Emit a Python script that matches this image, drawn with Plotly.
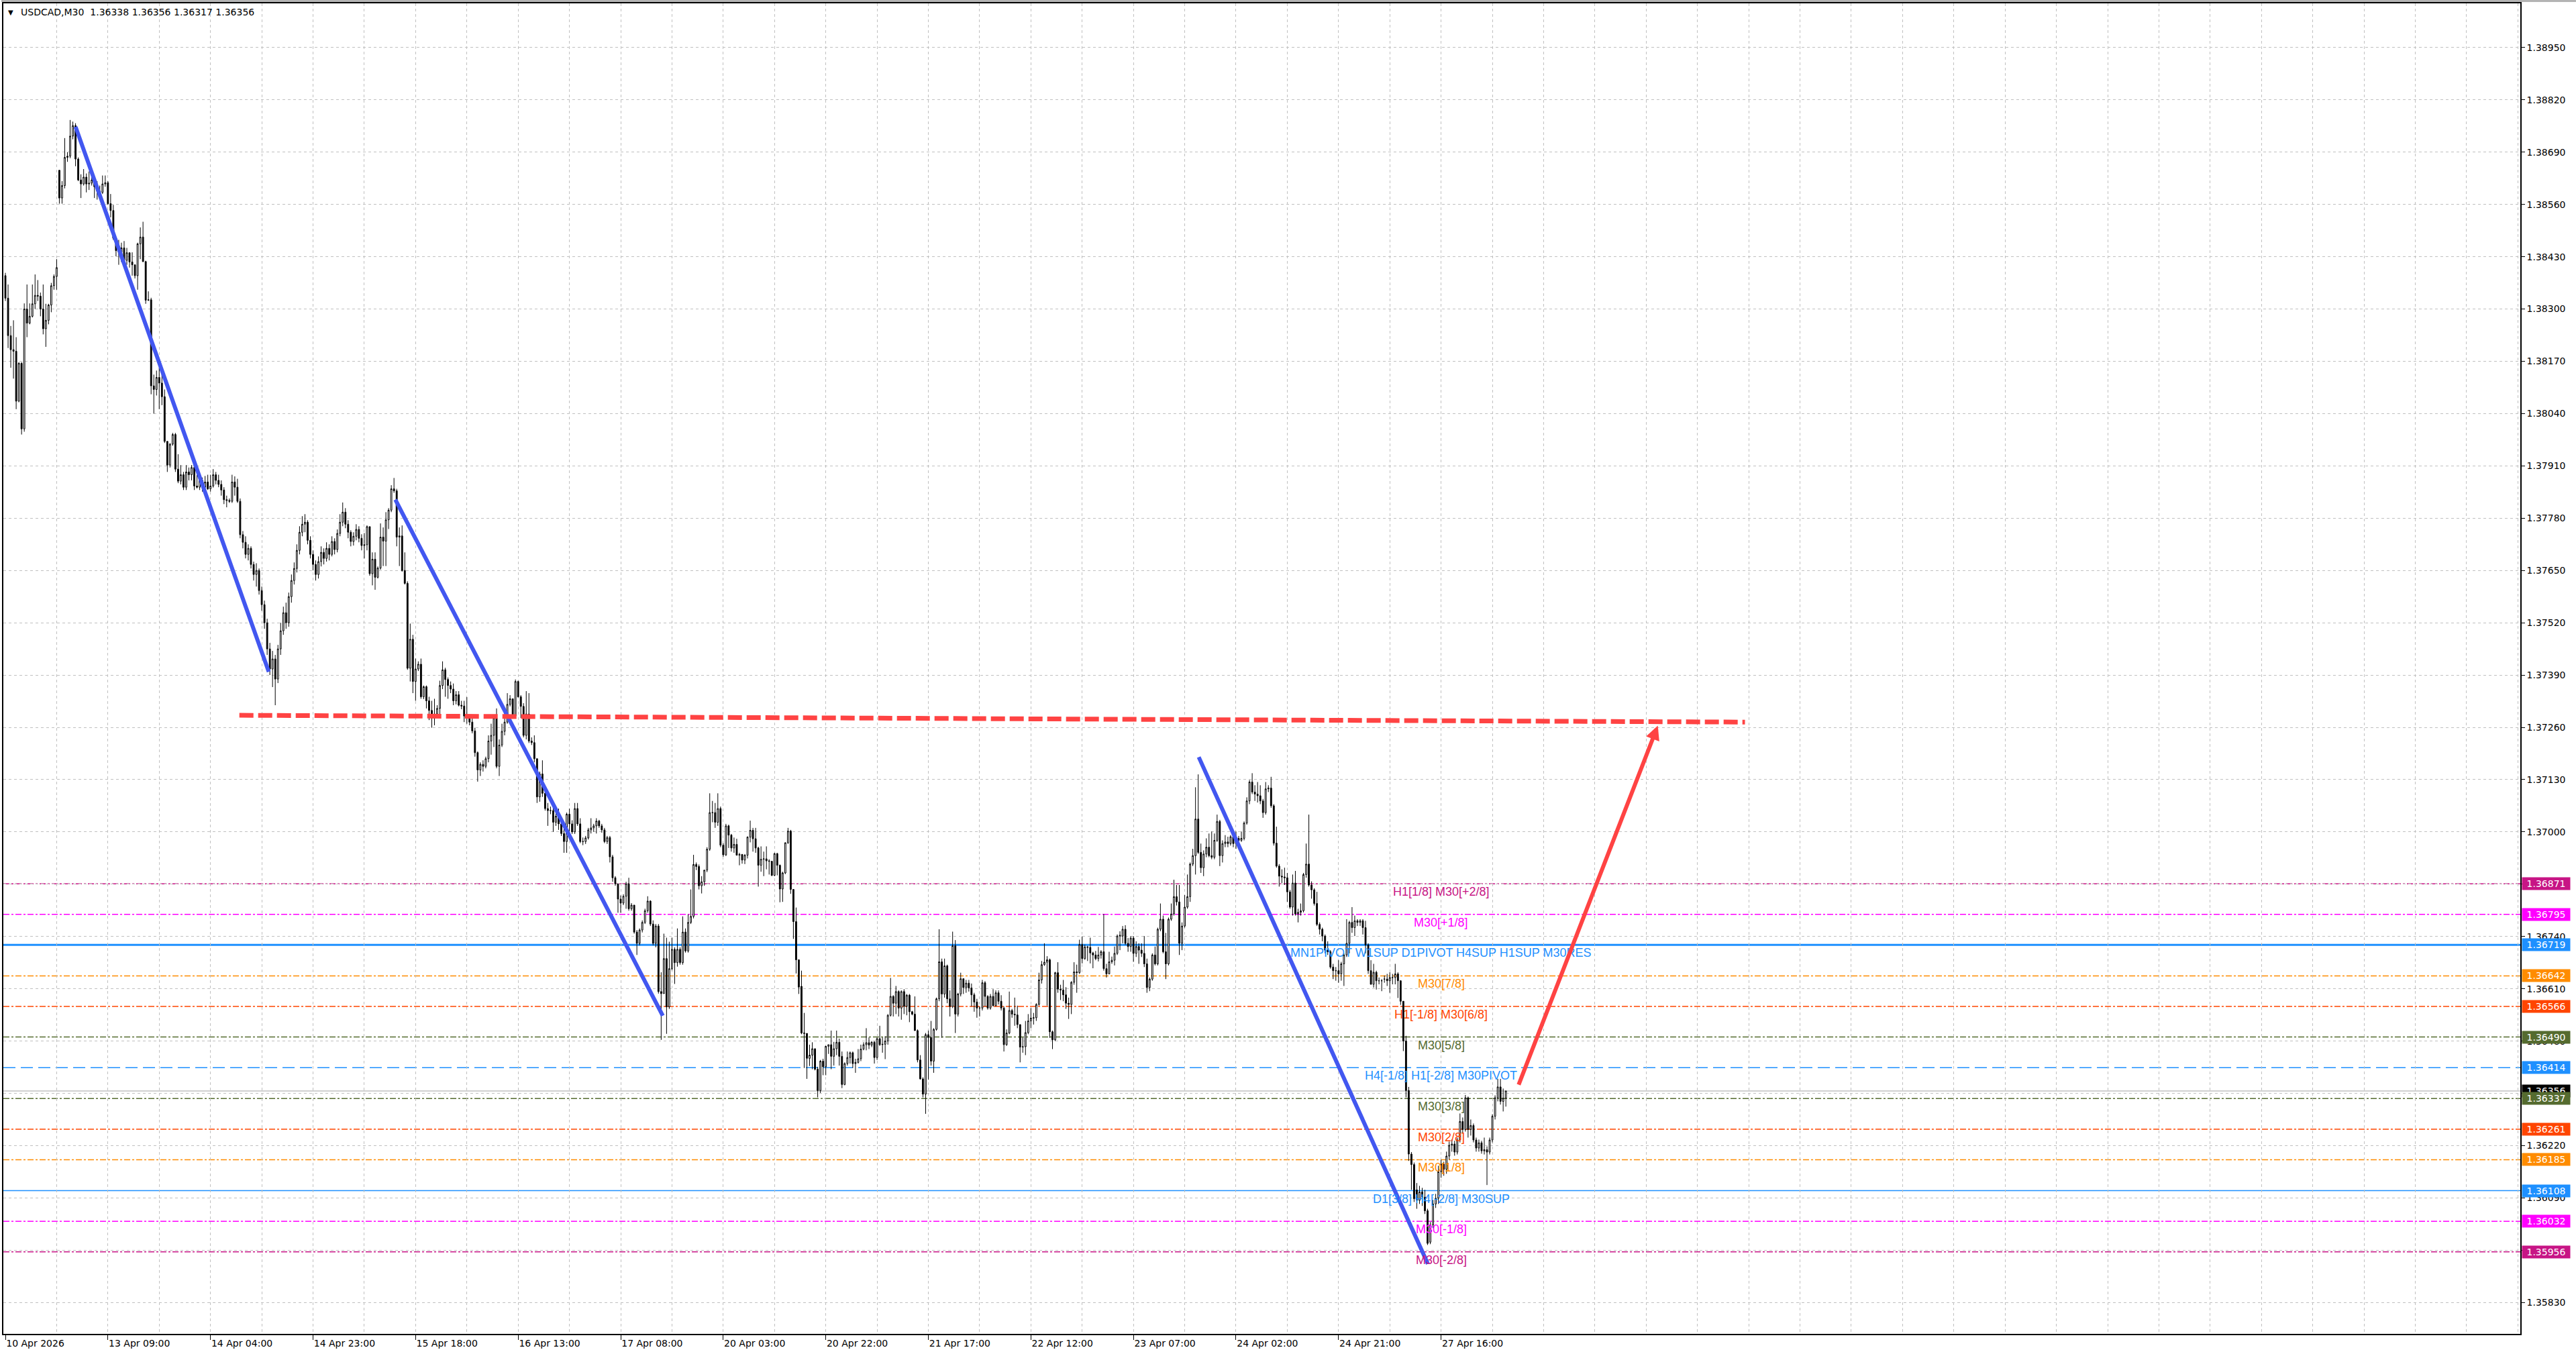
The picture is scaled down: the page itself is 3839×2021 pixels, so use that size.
"""USDCAD M30 candles with pivot / octave levels and hand drawn trend lines."""

import plotly.graph_objects as go

# ---------------------------------------------------------------- data
TICK_LABELS = [
    "10 Apr 2026", "13 Apr 09:00", "14 Apr 04:00", "14 Apr 23:00",
    "15 Apr 18:00", "16 Apr 13:00", "17 Apr 08:00", "20 Apr 03:00",
    "20 Apr 22:00", "21 Apr 17:00", "22 Apr 12:00", "23 Apr 07:00",
    "24 Apr 02:00", "24 Apr 21:00", "27 Apr 16:00",
]
BARS_PER_LABEL = 38  # one label every 19 hours of M30 bars

PRICE_TICKS = [
    1.38950, 1.38820, 1.38690, 1.38560, 1.38430, 1.38300, 1.38170, 1.38040,
    1.37910, 1.37780, 1.37650, 1.37520, 1.37390, 1.37260, 1.37130, 1.37000,
    1.36870, 1.36740, 1.36610, 1.36480, 1.36350, 1.36220, 1.36090, 1.35960,
    1.35830,
]

bar_open = [
    1.38383, 1.38327, 1.38234, 1.38199, 1.38195, 1.38071, 1.38165, 1.38002, 1.38300, 1.38265,
    1.38282, 1.38313, 1.38334, 1.38332, 1.38300, 1.38251, 1.38272, 1.38310, 1.38358, 1.38381,
    1.38645, 1.38576, 1.38607, 1.38677, 1.38680, 1.38730, 1.38756, 1.38673, 1.38621, 1.38611,
    1.38628, 1.38611, 1.38613, 1.38621, 1.38604, 1.38593, 1.38590, 1.38611, 1.38614, 1.38562,
    1.38545, 1.38476, 1.38445, 1.38441, 1.38452, 1.38421, 1.38440, 1.38417, 1.38410, 1.38383,
    1.38462, 1.38479, 1.38418, 1.38322, 1.38323, 1.38109, 1.38100, 1.38130, 1.38116, 1.38082,
    1.37971, 1.37912, 1.37964, 1.37988, 1.37902, 1.37872, 1.37888, 1.37857, 1.37895, 1.37888,
    1.37906, 1.37860, 1.37857, 1.37874, 1.37857, 1.37870, 1.37853, 1.37860, 1.37888, 1.37874,
    1.37864, 1.37850, 1.37826, 1.37824, 1.37822, 1.37870, 1.37857, 1.37822, 1.37739, 1.37720,
    1.37690, 1.37705, 1.37665, 1.37640, 1.37650, 1.37600, 1.37565, 1.37520, 1.37455, 1.37405,
    1.37430, 1.37380, 1.37455, 1.37500, 1.37545, 1.37520, 1.37585, 1.37625, 1.37655, 1.37700,
    1.37745, 1.37765, 1.37770, 1.37725, 1.37690, 1.37665, 1.37640, 1.37672, 1.37695, 1.37680,
    1.37705, 1.37690, 1.37722, 1.37702, 1.37742, 1.37770, 1.37795, 1.37765, 1.37745, 1.37722,
    1.37735, 1.37752, 1.37730, 1.37712, 1.37714, 1.37759, 1.37642, 1.37678, 1.37633, 1.37656,
    1.37733, 1.37723, 1.37776, 1.37800, 1.37853, 1.37848, 1.37733, 1.37736, 1.37650, 1.37618,
    1.37407, 1.37479, 1.37374, 1.37405, 1.37417, 1.37336, 1.37361, 1.37326, 1.37302, 1.37283,
    1.37293, 1.37307, 1.37364, 1.37403, 1.37379, 1.37364, 1.37355, 1.37326, 1.37341, 1.37315,
    1.37313, 1.37288, 1.37285, 1.37273, 1.37251, 1.37197, 1.37154, 1.37168, 1.37163, 1.37182,
    1.37226, 1.37240, 1.37283, 1.37163, 1.37216, 1.37250, 1.37273, 1.37317, 1.37331, 1.37288,
    1.37374, 1.37336, 1.37312, 1.37240, 1.37293, 1.37226, 1.37222, 1.37182, 1.37087, 1.37144,
    1.37096, 1.37058, 1.37053, 1.37053, 1.37024, 1.37039, 1.37020, 1.36996, 1.36976, 1.37044,
    1.37020, 1.37000, 1.37058, 1.37020, 1.36976, 1.36976, 1.36985, 1.37005, 1.37010, 1.37015,
    1.37027, 1.37015, 1.37005, 1.36976, 1.36986, 1.36938, 1.36886, 1.36871, 1.36833, 1.36823,
    1.36840, 1.36871, 1.36809, 1.36818, 1.36751, 1.36723, 1.36756, 1.36775, 1.36804, 1.36828,
    1.36771, 1.36723, 1.36766, 1.36603, 1.36598, 1.36685, 1.36565, 1.36660, 1.36708, 1.36675,
    1.36708, 1.36675, 1.36751, 1.36704, 1.36775, 1.36790, 1.36919, 1.36914, 1.36866, 1.36876,
    1.36905, 1.36957, 1.37048, 1.37048, 1.37024, 1.37058, 1.36967, 1.36943, 1.37015, 1.36992,
    1.36960, 1.36969, 1.36942, 1.36944, 1.36930, 1.36942, 1.36987, 1.37004, 1.36983, 1.36960,
    1.36917, 1.36932, 1.36933, 1.36928, 1.36927, 1.36892, 1.36946, 1.36917, 1.36858, 1.36898,
    1.36973, 1.37002, 1.36857, 1.36777, 1.36682, 1.36616, 1.36500, 1.36499, 1.36437, 1.36445,
    1.36461, 1.36410, 1.36357, 1.36430, 1.36416, 1.36467, 1.36471, 1.36442, 1.36461, 1.36477,
    1.36442, 1.36372, 1.36424, 1.36439, 1.36451, 1.36424, 1.36427, 1.36436, 1.36460, 1.36471,
    1.36476, 1.36470, 1.36477, 1.36439, 1.36486, 1.36471, 1.36472, 1.36480, 1.36544, 1.36591,
    1.36574, 1.36603, 1.36562, 1.36603, 1.36566, 1.36594, 1.36553, 1.36547, 1.36506, 1.36433,
    1.36386, 1.36348, 1.36496, 1.36489, 1.36430, 1.36509, 1.36585, 1.36677, 1.36597, 1.36667,
    1.36585, 1.36566, 1.36717, 1.36547, 1.36597, 1.36635, 1.36613, 1.36624, 1.36612, 1.36595,
    1.36577, 1.36562, 1.36562, 1.36625, 1.36591, 1.36562, 1.36591, 1.36568, 1.36600, 1.36579,
    1.36562, 1.36471, 1.36500, 1.36556, 1.36547, 1.36545, 1.36521, 1.36465, 1.36466, 1.36501,
    1.36530, 1.36537, 1.36538, 1.36571, 1.36632, 1.36670, 1.36676, 1.36682, 1.36503, 1.36483,
    1.36650, 1.36609, 1.36607, 1.36595, 1.36574, 1.36571, 1.36626, 1.36652, 1.36650, 1.36720,
    1.36685, 1.36714, 1.36713, 1.36699, 1.36694, 1.36685, 1.36694, 1.36702, 1.36660, 1.36647,
    1.36677, 1.36681, 1.36698, 1.36741, 1.36741, 1.36758, 1.36723, 1.36715, 1.36736, 1.36698,
    1.36715, 1.36706, 1.36698, 1.36672, 1.36613, 1.36634, 1.36694, 1.36672, 1.36758, 1.36783,
    1.36702, 1.36672, 1.36783, 1.36796, 1.36839, 1.36826, 1.36723, 1.36766, 1.36813, 1.36839,
    1.36920, 1.36941, 1.37032, 1.36949, 1.36911, 1.36945, 1.36962, 1.36941, 1.36937, 1.36979,
    1.37026, 1.36941, 1.36971, 1.36975, 1.36971, 1.36988, 1.36971, 1.36984, 1.36979, 1.36984,
    1.37022, 1.37077, 1.37124, 1.37099, 1.37094, 1.37090, 1.37077, 1.37048, 1.37107, 1.37109,
    1.37065, 1.36972, 1.36915, 1.36890, 1.36888, 1.36886, 1.36851, 1.36813, 1.36873, 1.36796,
    1.36800, 1.36804, 1.36894, 1.36920, 1.36868, 1.36856, 1.36822, 1.36770, 1.36758, 1.36741,
    1.36706, 1.36702, 1.36664, 1.36655, 1.36655, 1.36647, 1.36672, 1.36694, 1.36723, 1.36775,
    1.36762, 1.36779, 1.36775, 1.36779, 1.36762, 1.36719, 1.36655, 1.36621, 1.36651, 1.36630,
    1.36630, 1.36634, 1.36634, 1.36630, 1.36638, 1.36638, 1.36647, 1.36630, 1.36579, 1.36480,
    1.36357, 1.36199, 1.36173, 1.36110, 1.36084, 1.36105, 1.36092, 1.36058, 1.35980, 1.36023,
    1.36075, 1.36089, 1.36155, 1.36174, 1.36161, 1.36194, 1.36221, 1.36224, 1.36204, 1.36234,
    1.36280, 1.36260, 1.36339, 1.36260, 1.36270, 1.36234, 1.36214, 1.36227, 1.36207, 1.36210,
    1.36204, 1.36234, 1.36293, 1.36339, 1.36366, 1.36330, 1.36338,
]

bar_high = [
    1.38390, 1.38361, 1.38258, 1.38272, 1.38230, 1.38168, 1.38168, 1.38314, 1.38361, 1.38314,
    1.38361, 1.38386, 1.38372, 1.38341, 1.38361, 1.38313, 1.38313, 1.38365, 1.38386, 1.38424,
    1.38645, 1.38618, 1.38725, 1.38690, 1.38770, 1.38766, 1.38762, 1.38677, 1.38635, 1.38648,
    1.38637, 1.38642, 1.38638, 1.38625, 1.38618, 1.38607, 1.38632, 1.38632, 1.38618, 1.38586,
    1.38559, 1.38479, 1.38472, 1.38465, 1.38469, 1.38452, 1.38441, 1.38441, 1.38410, 1.38465,
    1.38503, 1.38517, 1.38420, 1.38344, 1.38328, 1.38137, 1.38147, 1.38154, 1.38137, 1.38100,
    1.37971, 1.37967, 1.37992, 1.37992, 1.37939, 1.37912, 1.37895, 1.37912, 1.37906, 1.37912,
    1.37912, 1.37888, 1.37884, 1.37881, 1.37885, 1.37888, 1.37888, 1.37902, 1.37895, 1.37888,
    1.37874, 1.37857, 1.37836, 1.37829, 1.37888, 1.37884, 1.37878, 1.37829, 1.37748, 1.37735,
    1.37715, 1.37710, 1.37672, 1.37668, 1.37655, 1.37610, 1.37575, 1.37530, 1.37470, 1.37450,
    1.37440, 1.37465, 1.37520, 1.37560, 1.37570, 1.37595, 1.37640, 1.37670, 1.37715, 1.37760,
    1.37785, 1.37790, 1.37775, 1.37735, 1.37700, 1.37675, 1.37685, 1.37710, 1.37705, 1.37720,
    1.37715, 1.37735, 1.37730, 1.37752, 1.37790, 1.37819, 1.37805, 1.37775, 1.37750, 1.37745,
    1.37765, 1.37760, 1.37740, 1.37743, 1.37762, 1.37759, 1.37695, 1.37695, 1.37660, 1.37767,
    1.37757, 1.37795, 1.37805, 1.37862, 1.37880, 1.37853, 1.37757, 1.37762, 1.37695, 1.37623,
    1.37518, 1.37490, 1.37431, 1.37424, 1.37431, 1.37364, 1.37364, 1.37336, 1.37326, 1.37331,
    1.37315, 1.37376, 1.37424, 1.37408, 1.37384, 1.37374, 1.37369, 1.37350, 1.37350, 1.37326,
    1.37326, 1.37335, 1.37290, 1.37283, 1.37259, 1.37200, 1.37173, 1.37178, 1.37187, 1.37240,
    1.37269, 1.37288, 1.37307, 1.37230, 1.37269, 1.37307, 1.37345, 1.37340, 1.37331, 1.37379,
    1.37376, 1.37340, 1.37320, 1.37350, 1.37345, 1.37235, 1.37240, 1.37182, 1.37150, 1.37178,
    1.37110, 1.37072, 1.37063, 1.37063, 1.37048, 1.37058, 1.37024, 1.37015, 1.37048, 1.37058,
    1.37029, 1.37072, 1.37072, 1.37034, 1.36986, 1.36990, 1.37010, 1.37034, 1.37020, 1.37034,
    1.37030, 1.37020, 1.37010, 1.36990, 1.36990, 1.36943, 1.36890, 1.36871, 1.36842, 1.36845,
    1.36876, 1.36886, 1.36823, 1.36818, 1.36756, 1.36760, 1.36780, 1.36809, 1.36840, 1.36830,
    1.36780, 1.36771, 1.36771, 1.36651, 1.36747, 1.36737, 1.36727, 1.36737, 1.36713, 1.36760,
    1.36713, 1.36790, 1.36760, 1.36795, 1.36857, 1.36943, 1.36924, 1.36919, 1.36890, 1.36905,
    1.36962, 1.37096, 1.37077, 1.37072, 1.37096, 1.37063, 1.36972, 1.37020, 1.37018, 1.36995,
    1.36986, 1.36983, 1.36948, 1.36945, 1.36945, 1.36989, 1.37028, 1.37010, 1.37010, 1.36963,
    1.36964, 1.36951, 1.36964, 1.36932, 1.36928, 1.36948, 1.36948, 1.36919, 1.36901, 1.36974,
    1.37010, 1.37005, 1.36857, 1.36812, 1.36682, 1.36655, 1.36550, 1.36499, 1.36471, 1.36477,
    1.36461, 1.36416, 1.36433, 1.36436, 1.36468, 1.36471, 1.36506, 1.36478, 1.36506, 1.36486,
    1.36454, 1.36427, 1.36454, 1.36454, 1.36454, 1.36436, 1.36460, 1.36471, 1.36477, 1.36512,
    1.36489, 1.36480, 1.36480, 1.36489, 1.36518, 1.36489, 1.36492, 1.36547, 1.36637, 1.36594,
    1.36617, 1.36606, 1.36606, 1.36609, 1.36597, 1.36597, 1.36555, 1.36591, 1.36509, 1.36445,
    1.36390, 1.36500, 1.36506, 1.36530, 1.36512, 1.36588, 1.36758, 1.36685, 1.36685, 1.36670,
    1.36606, 1.36752, 1.36731, 1.36600, 1.36650, 1.36635, 1.36632, 1.36632, 1.36623, 1.36600,
    1.36585, 1.36566, 1.36632, 1.36629, 1.36594, 1.36597, 1.36609, 1.36606, 1.36606, 1.36594,
    1.36566, 1.36509, 1.36603, 1.36560, 1.36588, 1.36568, 1.36521, 1.36489, 1.36530, 1.36547,
    1.36562, 1.36550, 1.36574, 1.36650, 1.36679, 1.36723, 1.36691, 1.36685, 1.36506, 1.36652,
    1.36676, 1.36620, 1.36632, 1.36614, 1.36588, 1.36629, 1.36676, 1.36670, 1.36732, 1.36740,
    1.36720, 1.36717, 1.36737, 1.36702, 1.36704, 1.36714, 1.36706, 1.36796, 1.36672, 1.36702,
    1.36690, 1.36715, 1.36745, 1.36753, 1.36766, 1.36768, 1.36736, 1.36741, 1.36741, 1.36728,
    1.36723, 1.36723, 1.36741, 1.36685, 1.36638, 1.36698, 1.36715, 1.36762, 1.36822, 1.36792,
    1.36749, 1.36787, 1.36822, 1.36881, 1.36868, 1.36868, 1.36775, 1.36843, 1.36894, 1.36924,
    1.36958, 1.37111, 1.37143, 1.36971, 1.36954, 1.36984, 1.36996, 1.37001, 1.36996, 1.37043,
    1.37030, 1.36979, 1.36992, 1.36988, 1.36992, 1.36996, 1.37001, 1.36990, 1.37001, 1.37026,
    1.37086, 1.37129, 1.37146, 1.37116, 1.37124, 1.37116, 1.37082, 1.37124, 1.37116, 1.37137,
    1.37069, 1.37013, 1.36920, 1.36907, 1.36911, 1.36898, 1.36856, 1.36894, 1.36903, 1.36809,
    1.36822, 1.36898, 1.36971, 1.37043, 1.36877, 1.36860, 1.36851, 1.36775, 1.36762, 1.36745,
    1.36728, 1.36706, 1.36672, 1.36664, 1.36681, 1.36677, 1.36698, 1.36783, 1.36779, 1.36813,
    1.36792, 1.36783, 1.36783, 1.36783, 1.36779, 1.36723, 1.36681, 1.36672, 1.36655, 1.36638,
    1.36634, 1.36643, 1.36647, 1.36651, 1.36647, 1.36672, 1.36651, 1.36630, 1.36579, 1.36493,
    1.36366, 1.36204, 1.36178, 1.36127, 1.36120, 1.36115, 1.36110, 1.36063, 1.36030, 1.36085,
    1.36100, 1.36170, 1.36185, 1.36180, 1.36205, 1.36230, 1.36235, 1.36232, 1.36240, 1.36300,
    1.36290, 1.36346, 1.36342, 1.36285, 1.36275, 1.36240, 1.36235, 1.36232, 1.36240, 1.36218,
    1.36240, 1.36298, 1.36345, 1.36386, 1.36386, 1.36362, 1.36356,
]

bar_low = [
    1.38320, 1.38203, 1.38154, 1.38127, 1.38051, 1.38068, 1.37988, 1.37995, 1.38230, 1.38262,
    1.38279, 1.38300, 1.38320, 1.38282, 1.38237, 1.38206, 1.38262, 1.38292, 1.38348, 1.38348,
    1.38562, 1.38562, 1.38600, 1.38666, 1.38675, 1.38722, 1.38655, 1.38618, 1.38576, 1.38607,
    1.38590, 1.38596, 1.38607, 1.38576, 1.38572, 1.38583, 1.38586, 1.38604, 1.38559, 1.38528,
    1.38472, 1.38431, 1.38410, 1.38417, 1.38403, 1.38410, 1.38403, 1.38383, 1.38376, 1.38348,
    1.38424, 1.38417, 1.38313, 1.38320, 1.38088, 1.38040, 1.38085, 1.38051, 1.38061, 1.37967,
    1.37895, 1.37906, 1.37960, 1.37895, 1.37867, 1.37864, 1.37850, 1.37850, 1.37874, 1.37874,
    1.37850, 1.37854, 1.37850, 1.37846, 1.37850, 1.37850, 1.37846, 1.37856, 1.37864, 1.37857,
    1.37836, 1.37815, 1.37807, 1.37818, 1.37818, 1.37836, 1.37818, 1.37730, 1.37705, 1.37680,
    1.37675, 1.37655, 1.37625, 1.37610, 1.37590, 1.37550, 1.37505, 1.37440, 1.37390, 1.37360,
    1.37315, 1.37370, 1.37440, 1.37490, 1.37505, 1.37510, 1.37570, 1.37615, 1.37645, 1.37690,
    1.37735, 1.37745, 1.37715, 1.37680, 1.37650, 1.37625, 1.37630, 1.37660, 1.37665, 1.37672,
    1.37675, 1.37685, 1.37690, 1.37695, 1.37735, 1.37760, 1.37755, 1.37730, 1.37710, 1.37712,
    1.37725, 1.37720, 1.37700, 1.37680, 1.37700, 1.37637, 1.37613, 1.37602, 1.37630, 1.37652,
    1.37661, 1.37661, 1.37753, 1.37795, 1.37843, 1.37710, 1.37661, 1.37647, 1.37615, 1.37403,
    1.37374, 1.37345, 1.37326, 1.37400, 1.37331, 1.37330, 1.37307, 1.37278, 1.37259, 1.37265,
    1.37285, 1.37288, 1.37355, 1.37336, 1.37331, 1.37345, 1.37315, 1.37317, 1.37312, 1.37305,
    1.37273, 1.37269, 1.37265, 1.37245, 1.37187, 1.37125, 1.37139, 1.37150, 1.37158, 1.37173,
    1.37192, 1.37211, 1.37158, 1.37139, 1.37211, 1.37240, 1.37269, 1.37312, 1.37283, 1.37283,
    1.37334, 1.37283, 1.37235, 1.37230, 1.37221, 1.37216, 1.37173, 1.37072, 1.37075, 1.37087,
    1.37053, 1.37015, 1.37044, 1.37000, 1.37015, 1.37005, 1.36990, 1.36948, 1.36948, 1.36991,
    1.36995, 1.36995, 1.37015, 1.36972, 1.36967, 1.36970, 1.36981, 1.36996, 1.37000, 1.36996,
    1.37010, 1.36998, 1.36972, 1.36970, 1.36924, 1.36876, 1.36866, 1.36799, 1.36799, 1.36818,
    1.36809, 1.36804, 1.36804, 1.36747, 1.36694, 1.36718, 1.36750, 1.36771, 1.36799, 1.36766,
    1.36718, 1.36713, 1.36598, 1.36483, 1.36598, 1.36498, 1.36560, 1.36656, 1.36622, 1.36665,
    1.36670, 1.36670, 1.36700, 1.36700, 1.36771, 1.36785, 1.36905, 1.36857, 1.36847, 1.36866,
    1.36900, 1.36953, 1.37024, 1.37010, 1.37015, 1.36962, 1.36938, 1.36940, 1.36960, 1.36951,
    1.36948, 1.36942, 1.36917, 1.36921, 1.36920, 1.36934, 1.36974, 1.36951, 1.36948, 1.36864,
    1.36901, 1.36890, 1.36907, 1.36894, 1.36890, 1.36890, 1.36892, 1.36825, 1.36826, 1.36895,
    1.36970, 1.36846, 1.36734, 1.36648, 1.36597, 1.36497, 1.36413, 1.36386, 1.36418, 1.36410,
    1.36407, 1.36340, 1.36351, 1.36395, 1.36395, 1.36448, 1.36410, 1.36419, 1.36445, 1.36419,
    1.36363, 1.36370, 1.36419, 1.36424, 1.36413, 1.36401, 1.36424, 1.36430, 1.36457, 1.36457,
    1.36460, 1.36465, 1.36424, 1.36433, 1.36468, 1.36451, 1.36435, 1.36471, 1.36541, 1.36541,
    1.36547, 1.36541, 1.36533, 1.36547, 1.36544, 1.36527, 1.36544, 1.36506, 1.36427, 1.36384,
    1.36340, 1.36299, 1.36384, 1.36419, 1.36401, 1.36506, 1.36579, 1.36488, 1.36588, 1.36574,
    1.36541, 1.36562, 1.36500, 1.36541, 1.36591, 1.36597, 1.36600, 1.36603, 1.36566, 1.36553,
    1.36538, 1.36541, 1.36556, 1.36566, 1.36558, 1.36558, 1.36566, 1.36566, 1.36571, 1.36556,
    1.36454, 1.36468, 1.36497, 1.36538, 1.36518, 1.36512, 1.36427, 1.36451, 1.36445, 1.36497,
    1.36512, 1.36521, 1.36530, 1.36568, 1.36623, 1.36667, 1.36568, 1.36488, 1.36460, 1.36480,
    1.36600, 1.36582, 1.36579, 1.36560, 1.36535, 1.36547, 1.36620, 1.36600, 1.36647, 1.36673,
    1.36682, 1.36679, 1.36673, 1.36661, 1.36681, 1.36678, 1.36685, 1.36655, 1.36638, 1.36647,
    1.36672, 1.36668, 1.36694, 1.36706, 1.36723, 1.36719, 1.36702, 1.36702, 1.36677, 1.36689,
    1.36672, 1.36689, 1.36664, 1.36600, 1.36604, 1.36630, 1.36668, 1.36668, 1.36753, 1.36698,
    1.36634, 1.36668, 1.36779, 1.36792, 1.36817, 1.36694, 1.36706, 1.36762, 1.36809, 1.36826,
    1.36915, 1.36894, 1.36945, 1.36898, 1.36890, 1.36937, 1.36937, 1.36932, 1.36932, 1.36975,
    1.36915, 1.36924, 1.36962, 1.36962, 1.36966, 1.36962, 1.36958, 1.36971, 1.36975, 1.36979,
    1.37018, 1.37069, 1.37094, 1.37077, 1.37073, 1.37069, 1.37035, 1.37043, 1.37099, 1.37060,
    1.36966, 1.36911, 1.36864, 1.36873, 1.36868, 1.36826, 1.36809, 1.36792, 1.36792, 1.36775,
    1.36792, 1.36800, 1.36886, 1.36864, 1.36834, 1.36817, 1.36766, 1.36745, 1.36728, 1.36698,
    1.36694, 1.36660, 1.36634, 1.36630, 1.36625, 1.36630, 1.36617, 1.36689, 1.36698, 1.36749,
    1.36741, 1.36766, 1.36766, 1.36745, 1.36698, 1.36647, 1.36621, 1.36613, 1.36608, 1.36621,
    1.36604, 1.36625, 1.36617, 1.36600, 1.36621, 1.36621, 1.36587, 1.36570, 1.36455, 1.36340,
    1.36182, 1.36110, 1.36080, 1.36063, 1.36075, 1.36070, 1.36050, 1.35973, 1.35975, 1.36015,
    1.36065, 1.36075, 1.36140, 1.36145, 1.36150, 1.36185, 1.36205, 1.36195, 1.36198, 1.36228,
    1.36250, 1.36255, 1.36240, 1.36245, 1.36228, 1.36205, 1.36205, 1.36200, 1.36198, 1.36122,
    1.36198, 1.36228, 1.36285, 1.36330, 1.36322, 1.36305, 1.36317,
]

bar_close = [
    1.38327, 1.38234, 1.38199, 1.38195, 1.38071, 1.38165, 1.38002, 1.38300, 1.38265, 1.38282,
    1.38313, 1.38334, 1.38332, 1.38300, 1.38251, 1.38272, 1.38310, 1.38358, 1.38381, 1.38403,
    1.38576, 1.38607, 1.38677, 1.38680, 1.38730, 1.38756, 1.38673, 1.38621, 1.38611, 1.38628,
    1.38611, 1.38613, 1.38621, 1.38604, 1.38593, 1.38590, 1.38611, 1.38614, 1.38562, 1.38545,
    1.38476, 1.38445, 1.38441, 1.38452, 1.38421, 1.38440, 1.38417, 1.38410, 1.38383, 1.38462,
    1.38479, 1.38418, 1.38322, 1.38323, 1.38109, 1.38100, 1.38130, 1.38116, 1.38082, 1.37971,
    1.37912, 1.37964, 1.37988, 1.37902, 1.37872, 1.37888, 1.37857, 1.37895, 1.37888, 1.37906,
    1.37860, 1.37857, 1.37874, 1.37857, 1.37870, 1.37853, 1.37860, 1.37888, 1.37874, 1.37864,
    1.37850, 1.37826, 1.37824, 1.37822, 1.37870, 1.37857, 1.37822, 1.37739, 1.37720, 1.37690,
    1.37705, 1.37665, 1.37640, 1.37650, 1.37600, 1.37565, 1.37520, 1.37455, 1.37405, 1.37430,
    1.37380, 1.37455, 1.37500, 1.37545, 1.37520, 1.37585, 1.37625, 1.37655, 1.37700, 1.37745,
    1.37765, 1.37770, 1.37725, 1.37690, 1.37665, 1.37640, 1.37672, 1.37695, 1.37680, 1.37705,
    1.37690, 1.37722, 1.37702, 1.37742, 1.37770, 1.37795, 1.37765, 1.37745, 1.37722, 1.37735,
    1.37752, 1.37730, 1.37712, 1.37714, 1.37759, 1.37642, 1.37678, 1.37633, 1.37656, 1.37733,
    1.37723, 1.37776, 1.37800, 1.37853, 1.37848, 1.37733, 1.37736, 1.37650, 1.37618, 1.37407,
    1.37479, 1.37374, 1.37405, 1.37417, 1.37336, 1.37361, 1.37326, 1.37302, 1.37283, 1.37293,
    1.37307, 1.37364, 1.37403, 1.37379, 1.37364, 1.37355, 1.37326, 1.37341, 1.37315, 1.37313,
    1.37288, 1.37285, 1.37273, 1.37251, 1.37197, 1.37154, 1.37168, 1.37163, 1.37182, 1.37226,
    1.37240, 1.37283, 1.37163, 1.37216, 1.37250, 1.37273, 1.37317, 1.37331, 1.37288, 1.37374,
    1.37336, 1.37312, 1.37240, 1.37293, 1.37226, 1.37222, 1.37182, 1.37087, 1.37144, 1.37096,
    1.37058, 1.37053, 1.37053, 1.37024, 1.37039, 1.37020, 1.36996, 1.36976, 1.37044, 1.37020,
    1.37000, 1.37058, 1.37020, 1.36976, 1.36976, 1.36985, 1.37005, 1.37010, 1.37015, 1.37027,
    1.37015, 1.37005, 1.36976, 1.36986, 1.36938, 1.36886, 1.36871, 1.36833, 1.36823, 1.36840,
    1.36871, 1.36809, 1.36818, 1.36751, 1.36723, 1.36756, 1.36775, 1.36804, 1.36828, 1.36771,
    1.36723, 1.36766, 1.36603, 1.36598, 1.36685, 1.36565, 1.36660, 1.36708, 1.36675, 1.36708,
    1.36675, 1.36751, 1.36704, 1.36775, 1.36790, 1.36919, 1.36914, 1.36866, 1.36876, 1.36905,
    1.36957, 1.37048, 1.37048, 1.37024, 1.37058, 1.36967, 1.36943, 1.37015, 1.36992, 1.36960,
    1.36969, 1.36942, 1.36944, 1.36930, 1.36942, 1.36987, 1.37004, 1.36983, 1.36960, 1.36917,
    1.36932, 1.36933, 1.36928, 1.36927, 1.36892, 1.36946, 1.36917, 1.36858, 1.36898, 1.36973,
    1.37002, 1.36857, 1.36777, 1.36682, 1.36614, 1.36500, 1.36499, 1.36437, 1.36445, 1.36461,
    1.36410, 1.36357, 1.36430, 1.36416, 1.36467, 1.36471, 1.36442, 1.36461, 1.36477, 1.36442,
    1.36372, 1.36424, 1.36439, 1.36451, 1.36424, 1.36427, 1.36436, 1.36460, 1.36471, 1.36476,
    1.36470, 1.36477, 1.36439, 1.36486, 1.36471, 1.36472, 1.36480, 1.36544, 1.36591, 1.36574,
    1.36603, 1.36562, 1.36603, 1.36566, 1.36594, 1.36553, 1.36547, 1.36506, 1.36433, 1.36386,
    1.36348, 1.36496, 1.36489, 1.36430, 1.36509, 1.36585, 1.36677, 1.36597, 1.36667, 1.36585,
    1.36566, 1.36717, 1.36547, 1.36597, 1.36635, 1.36613, 1.36624, 1.36612, 1.36595, 1.36577,
    1.36562, 1.36562, 1.36625, 1.36591, 1.36562, 1.36591, 1.36568, 1.36600, 1.36579, 1.36562,
    1.36471, 1.36500, 1.36556, 1.36547, 1.36545, 1.36521, 1.36465, 1.36466, 1.36501, 1.36530,
    1.36537, 1.36538, 1.36571, 1.36632, 1.36670, 1.36676, 1.36682, 1.36503, 1.36483, 1.36650,
    1.36609, 1.36607, 1.36595, 1.36574, 1.36571, 1.36626, 1.36652, 1.36650, 1.36720, 1.36685,
    1.36714, 1.36713, 1.36699, 1.36694, 1.36685, 1.36694, 1.36702, 1.36660, 1.36647, 1.36677,
    1.36681, 1.36698, 1.36741, 1.36743, 1.36758, 1.36723, 1.36715, 1.36736, 1.36698, 1.36715,
    1.36706, 1.36698, 1.36672, 1.36613, 1.36634, 1.36694, 1.36672, 1.36758, 1.36783, 1.36702,
    1.36672, 1.36783, 1.36796, 1.36839, 1.36826, 1.36723, 1.36766, 1.36813, 1.36839, 1.36920,
    1.36941, 1.37032, 1.36949, 1.36911, 1.36945, 1.36962, 1.36941, 1.36937, 1.36979, 1.37026,
    1.36941, 1.36971, 1.36975, 1.36971, 1.36988, 1.36971, 1.36984, 1.36979, 1.36984, 1.37022,
    1.37077, 1.37124, 1.37099, 1.37094, 1.37090, 1.37077, 1.37048, 1.37107, 1.37109, 1.37065,
    1.36972, 1.36915, 1.36890, 1.36888, 1.36886, 1.36851, 1.36813, 1.36873, 1.36796, 1.36800,
    1.36804, 1.36894, 1.36920, 1.36868, 1.36856, 1.36822, 1.36770, 1.36758, 1.36741, 1.36706,
    1.36702, 1.36664, 1.36655, 1.36655, 1.36647, 1.36672, 1.36694, 1.36723, 1.36775, 1.36762,
    1.36779, 1.36775, 1.36779, 1.36762, 1.36719, 1.36655, 1.36621, 1.36651, 1.36630, 1.36630,
    1.36630, 1.36634, 1.36630, 1.36638, 1.36638, 1.36647, 1.36630, 1.36579, 1.36480, 1.36357,
    1.36199, 1.36173, 1.36088, 1.36084, 1.36105, 1.36092, 1.36058, 1.35977, 1.36023, 1.36075,
    1.36089, 1.36155, 1.36174, 1.36161, 1.36194, 1.36221, 1.36224, 1.36204, 1.36234, 1.36280,
    1.36260, 1.36339, 1.36260, 1.36270, 1.36234, 1.36214, 1.36227, 1.36207, 1.36210, 1.36204,
    1.36234, 1.36293, 1.36339, 1.36366, 1.36330, 1.36338, 1.36356,
]

# horizontal levels drawn by the indicator
level_price = [
    1.36871, 1.36795, 1.36719, 1.36642, 1.36566, 1.36490, 1.36414,
    1.36337, 1.36261, 1.36185, 1.36108, 1.36032, 1.35956,
]
level_name = [
    "H1[1/8] M30[+2/8]", "M30[+1/8]",
    "MN1PIVOT W1SUP D1PIVOT H4SUP H1SUP M30RES", "M30[7/8]",
    "H1[-1/8] M30[6/8]", "M30[5/8]", "H4[-1/8] H1[-2/8] M30PIVOT",
    "M30[3/8]", "M30[2/8]", "M30[1/8]", "D1[3/8] H4[-2/8] M30SUP",
    "M30[-1/8]", "M30[-2/8]",
]

# hand drawn objects, anchored as (bar index, price)
blue_trend_bars = [(26.0, 97.6), (144.5, 243.6), (442.2, 527.1)]
blue_trend_prices = [(1.38753, 1.37398), (1.37826, 1.36543), (1.37186, 1.35926)]
red_level_bars = [86.7, 644.6]
red_level_prices = [1.37290, 1.37273]
red_arrow_bars = [560.6, 612.3]
red_arrow_prices = [1.36369, 1.37264]

# ---------------------------------------------------------------- styles
LEVEL_STYLES = [
    ("#C71585", "dashdot", 1.5), ("#FF00FF", "dashdot", 1.5),
    ("#1E90FF", "solid", 3), ("#FF8C00", "dashdot", 1.5),
    ("#FF4500", "dashdot", 1.5), ("#556B2F", "dashdot", 1.5),
    ("#1E90FF", "18px,8px", 1.5), ("#556B2F", "dashdot", 1.5),
    ("#FF4500", "dashdot", 1.5), ("#FF8C00", "dashdot", 1.5),
    ("#1E90FF", "solid", 1.5), ("#FF00FF", "dashdot", 1.5),
    ("#C71585", "dashdot", 1.5),
]
GRID = "#C0C0C0"
AXIS_FONT = dict(family="DejaVu Sans", size=14, color="black")
LABEL_FONT = "Liberation Sans, Arial, sans-serif"
BLUE = "#4257F0"
RED = "#FF4343"

W, H = 3839, 2021
MARGIN = dict(l=3, r=83, t=5, b=33)


def main():
    n_bars = len(bar_close)
    x = list(range(n_bars))
    tick_vals = [i * BARS_PER_LABEL for i in range(len(TICK_LABELS))]
    label_bar = tick_vals[-1]  # level names are centred on the last time label
    x_max = 931.9

    fig = go.Figure()
    fig.add_trace(go.Candlestick(
        x=x, open=bar_open, high=bar_high, low=bar_low, close=bar_close,
        increasing=dict(line=dict(color="black", width=1), fillcolor="white"),
        decreasing=dict(line=dict(color="black", width=1), fillcolor="black"),
        hoverinfo="skip", showlegend=False,
    ))

    for bars, prices in zip(blue_trend_bars, blue_trend_prices):
        fig.add_trace(go.Scatter(
            x=list(bars), y=list(prices), mode="lines",
            line=dict(color=BLUE, width=6), hoverinfo="skip", showlegend=False,
        ))

    fig.add_trace(go.Scatter(
        x=red_level_bars, y=red_level_prices, mode="lines",
        line=dict(color=RED, width=7, dash="21px,7px"),
        hoverinfo="skip", showlegend=False,
    ))

    shapes = []
    annotations = []

    # current price line + tag (tag first so level tags sit on top of it)
    shapes.append(dict(
        type="line", xref="paper", x0=0, x1=1, yref="y",
        y0=bar_close[-1], y1=bar_close[-1],
        line=dict(color=GRID, width=1.5), layer="below",
    ))
    annotations.append(dict(
        xref="paper", x=1, xanchor="left", xshift=2,
        yref="y", y=bar_close[-1], yanchor="middle",
        text=f"{bar_close[-1]:.5f}", showarrow=False,
        font=dict(family="DejaVu Sans", size=14, color="white"),
        bgcolor="black", width=69, height=16, borderpad=1,
    ))

    for price, name, (color, dash, width) in zip(level_price, level_name, LEVEL_STYLES):
        shapes.append(dict(
            type="line", xref="paper", x0=0, x1=1, yref="y", y0=price, y1=price,
            line=dict(color=color, width=width, dash=dash), layer="below",
        ))
        annotations.append(dict(
            xref="x", x=label_bar, xanchor="center",
            yref="y", y=price, yanchor="top",
            text=name, showarrow=False,
            font=dict(family=LABEL_FONT, size=18, color=color),
        ))
        annotations.append(dict(
            xref="paper", x=1, xanchor="left", xshift=2,
            yref="y", y=price, yanchor="middle",
            text=f"{price:.5f}", showarrow=False,
            font=dict(family="DejaVu Sans", size=14, color="white"),
            bgcolor=color, width=69, height=16, borderpad=1,
        ))

    # red arrow towards the dashed level
    annotations.append(dict(
        xref="x", yref="y", x=red_arrow_bars[1], y=red_arrow_prices[1],
        axref="x", ayref="y", ax=red_arrow_bars[0], ay=red_arrow_prices[0],
        text="", showarrow=True, arrowhead=2, arrowsize=0.7,
        arrowwidth=6, arrowcolor=RED, standoff=0, startstandoff=0,
    ))

    # chart header
    annotations.append(dict(
        xref="paper", x=0, xanchor="left", xshift=5,
        yref="paper", y=1, yanchor="top", yshift=-6,
        text="\u25bc", showarrow=False,
        font=dict(family="DejaVu Sans", size=10, color="black"),
    ))
    header = "USDCAD,M30\u00a0\u00a0{:.5f} {:.5f} {:.5f} {:.5f}".format(
        bar_open[-1], bar_high[-1], bar_low[-1], bar_close[-1])
    annotations.append(dict(
        xref="paper", x=0, xanchor="left", xshift=24,
        yref="paper", y=1, yanchor="top", yshift=-3,
        text=header, showarrow=False, font=AXIS_FONT,
    ))

    # thin grey window strip along the very top
    plot_h = H - MARGIN["t"] - MARGIN["b"]
    plot_w = W - MARGIN["l"] - MARGIN["r"]
    shapes.append(dict(
        type="rect", xref="paper", yref="paper",
        x0=-MARGIN["l"] / plot_w, x1=1 + MARGIN["r"] / plot_w,
        y0=1 + 2 / plot_h, y1=1 + MARGIN["t"] / plot_h,
        fillcolor="#B4B4B4", line=dict(width=0), layer="above",
    ))

    fig.update_layout(
        width=W, height=H, margin=MARGIN,
        paper_bgcolor="white", plot_bgcolor="white",
        showlegend=False, boxgap=0.35,
        shapes=shapes, annotations=annotations,
        font=AXIS_FONT,
    )
    fig.update_xaxes(
        range=[-0.75, x_max], rangeslider=dict(visible=False),
        tickmode="array", tickvals=tick_vals, ticktext=TICK_LABELS,
        ticklabelposition="outside right", ticks="outside", ticklen=7,
        tickcolor="black", tickfont=AXIS_FONT,
        showgrid=False, zeroline=False,
        showline=True, mirror=True, linecolor="black", linewidth=1.5,
        minor=dict(
            tickmode="array",
            tickvals=list(range(BARS_PER_LABEL // 2, int(x_max) + 1, BARS_PER_LABEL // 2)),
            showgrid=True, gridcolor=GRID, griddash="4px,4px", gridwidth=1, ticks="",
        ),
    )
    fig.update_yaxes(
        range=[1.35752, 1.39060], side="right",
        tickmode="array", tickvals=PRICE_TICKS,
        ticktext=[f"{p:.5f}" for p in PRICE_TICKS],
        ticks="outside", ticklen=5, tickcolor="black", tickfont=AXIS_FONT,
        showgrid=True, gridcolor=GRID, griddash="4px,4px", gridwidth=1,
        zeroline=False,
        showline=True, mirror=True, linecolor="black", linewidth=1.5,
    )

    fig.write_html(
        "out.html",
        config={"displayModeBar": False},
        post_script="document.body.style.margin='0';document.body.style.overflow='hidden';",
    )


if __name__ == "__main__":
    main()
